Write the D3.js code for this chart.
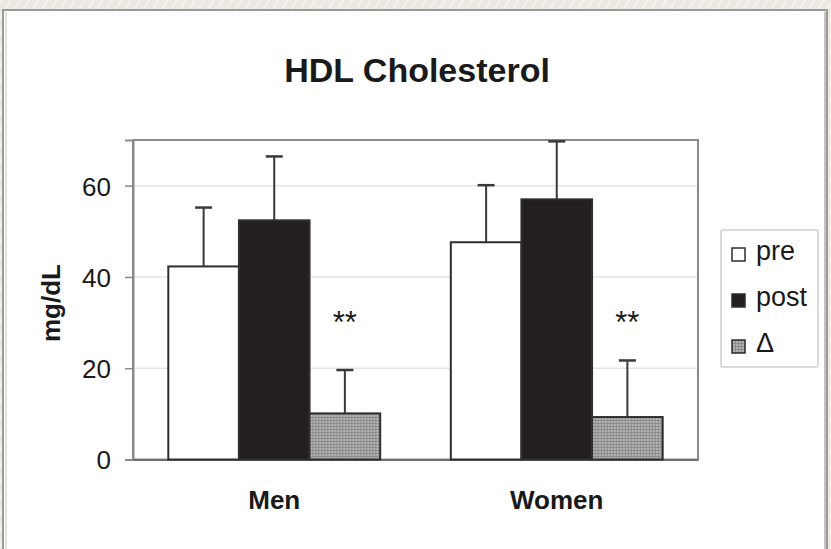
<!DOCTYPE html>
<html>
<head>
<meta charset="utf-8">
<script src="https://cdn.jsdelivr.net/npm/d3@7"></script>
<style>
  html, body { margin: 0; padding: 0; background: #ebe8df; }
  svg { display: block; }
  text { font-family: "Liberation Sans", Arial, Helvetica, sans-serif; fill: #1a1a1a; }
</style>
</head>
<body>
<svg id="chart" width="831" height="549"></svg>
<script>
// HDL cholesterol, mean ± SD (mg/dL)
const categories = ["Men", "Women"];
const seriesNames = ["pre", "post", "Δ"];
const preMean  = [42.3, 47.6];
const preSD    = [12.9, 12.5];
const postMean = [52.4, 57.0];
const postSD   = [14.0, 12.7];
const deltaMean = [10.1, 9.3];
const deltaSD   = [9.5, 12.4];
const significance = ["**", "**"];
const yTicks = [0, 20, 40, 60];

const W = 831, H = 549;
const svg = d3.select("#chart");

// pattern for the change bars
const defs = svg.append("defs");
const pat = defs.append("pattern").attr("id", "grain")
  .attr("width", 3).attr("height", 3).attr("patternUnits", "userSpaceOnUse");
pat.append("rect").attr("width", 3).attr("height", 3).attr("fill", "#b4b4b4");
pat.append("rect").attr("x", 0).attr("y", 0).attr("width", 1).attr("height", 3).attr("fill", "#8c8c8c");
pat.append("rect").attr("x", 0).attr("y", 0).attr("width", 3).attr("height", 1).attr("fill", "#8c8c8c");

// window backdrop and chart frame
const stripes = defs.append("pattern").attr("id", "stripes")
  .attr("width", 8).attr("height", 8).attr("patternUnits", "userSpaceOnUse")
  .attr("patternTransform", "rotate(30)");
stripes.append("rect").attr("width", 8).attr("height", 8).attr("fill", "#ece9e1");
stripes.append("rect").attr("width", 2).attr("height", 8).attr("fill", "#f5f3ee");
svg.append("rect").attr("width", W).attr("height", H).attr("fill", "url(#stripes)");
svg.append("rect").attr("x", 3).attr("y", 10).attr("width", 824).attr("height", 560)
  .attr("fill", "#fff").attr("stroke", "#9a9a9a").attr("stroke-width", 2);
svg.append("line").attr("x1", 6).attr("x2", 6).attr("y1", 12).attr("y2", H)
  .attr("stroke", "#d6d6d6").attr("stroke-width", 1.5);
svg.append("line").attr("x1", 825).attr("x2", 825).attr("y1", 12).attr("y2", H)
  .attr("stroke", "#c4c4c4").attr("stroke-width", 2);

const plot = { left: 133, right: 698, top: 140, bottom: 459.5 };

const y = d3.scaleLinear().domain([0, 70]).range([plot.bottom, plot.top]);
const x0 = d3.scaleBand().domain(categories).range([plot.left, plot.right])
  .paddingInner(0.25).paddingOuter(0.125);
const x1 = d3.scaleBand().domain(seriesNames).range([0, x0.bandwidth()]).padding(0);

// gridlines
svg.append("g").selectAll("line").data(yTicks.filter(t => t > 0)).join("line")
  .attr("x1", plot.left).attr("x2", plot.right)
  .attr("y1", d => y(d)).attr("y2", d => y(d))
  .attr("stroke", "#e3e3e3").attr("stroke-width", 1.5);

// plot frame
svg.append("rect").attr("x", plot.left).attr("y", plot.top)
  .attr("width", plot.right - plot.left).attr("height", plot.bottom - plot.top)
  .attr("fill", "none").attr("stroke", "#8a8a8a").attr("stroke-width", 2);

// y axis
const yAxis = svg.append("g").attr("transform", `translate(${plot.left},0)`)
  .call(d3.axisLeft(y).tickValues(yTicks).tickSize(8).tickPadding(14).tickFormat(d3.format("d")));
yAxis.select(".domain").attr("stroke", "#8a8a8a").attr("stroke-width", 2);
yAxis.selectAll(".tick line").attr("stroke", "#8a8a8a").attr("stroke-width", 1.5);
yAxis.selectAll(".tick text").attr("font-size", 26).attr("fill", "#222")
  .style("font-family", "'Liberation Sans', Arial, sans-serif").attr("dy", "0.36em");

// x axis
const xAxis = svg.append("g").attr("transform", `translate(0,${plot.bottom})`)
  .call(d3.axisBottom(x0).tickSize(0).tickPadding(31));
xAxis.select(".domain").attr("stroke", "#6e6e6e").attr("stroke-width", 2);
xAxis.selectAll(".tick text").attr("font-size", 26).attr("font-weight", "bold")
  .attr("fill", "#222").style("font-family", "'Liberation Sans', Arial, sans-serif");

// bars
const rows = categories.map((c, i) => ({
  cat: c,
  bars: [
    { key: "pre", mean: preMean[i], sd: preSD[i], fill: "#ffffff" },
    { key: "post", mean: postMean[i], sd: postSD[i], fill: "#231f20" },
    { key: "Δ", mean: deltaMean[i], sd: deltaSD[i], fill: "url(#grain)" }
  ],
  sig: significance[i]
}));

const groups = svg.append("g").selectAll("g").data(rows).join("g")
  .attr("transform", d => `translate(${x0(d.cat)},0)`);

// error bars (upper whisker only)
groups.selectAll(".err").data(d => d.bars).join("g").attr("class", "err")
  .each(function (b) {
    const g = d3.select(this);
    const cx = x1(b.key) + x1.bandwidth() / 2;
    g.append("line").attr("x1", cx).attr("x2", cx)
      .attr("y1", y(b.mean)).attr("y2", y(b.mean + b.sd))
      .attr("stroke", "#3a3a3a").attr("stroke-width", 2);
    g.append("line").attr("x1", cx - 8.5).attr("x2", cx + 8.5)
      .attr("y1", y(b.mean + b.sd)).attr("y2", y(b.mean + b.sd))
      .attr("stroke", "#3a3a3a").attr("stroke-width", 2.5);
  });

groups.selectAll(".bar").data(d => d.bars).join("rect").attr("class", "bar")
  .attr("x", b => x1(b.key))
  .attr("y", b => y(b.mean))
  .attr("width", x1.bandwidth())
  .attr("height", b => y(0) - y(b.mean))
  .attr("fill", b => b.fill)
  .attr("stroke", "#2e2e2e").attr("stroke-width", 2);

// significance markers over the change bars
groups.append("text")
  .attr("x", x1("Δ") + x1.bandwidth() / 2)
  .attr("y", 333)
  .attr("text-anchor", "middle")
  .attr("font-size", 31)
  .text(d => d.sig);

// title
svg.append("text").attr("x", 417).attr("y", 82).attr("text-anchor", "middle")
  .attr("font-size", 34).attr("font-weight", "bold").text("HDL Cholesterol");

// y label
svg.append("text").attr("transform", "translate(60,303) rotate(-90)")
  .attr("text-anchor", "middle").attr("font-size", 26).attr("font-weight", "bold")
  .text("mg/dL");

// legend
const legend = svg.append("g");
legend.append("rect").attr("x", 721).attr("y", 230).attr("width", 97).attr("height", 137)
  .attr("fill", "#fff").attr("stroke", "#cfcfcf").attr("stroke-width", 1.5).attr("rx", 2);
const legendFills = ["#ffffff", "#231f20", "url(#grain)"];
const li = legend.selectAll(".item").data(seriesNames).join("g").attr("class", "item")
  .attr("transform", (d, i) => `translate(732,${248 + i * 46})`);
li.append("rect").attr("width", 13).attr("height", 13)
  .attr("fill", (d, i) => legendFills[i]).attr("stroke", "#2e2e2e").attr("stroke-width", 1.5);
li.append("text").attr("x", 24).attr("y", 12).attr("font-size", 27).text(d => d);
</script>
</body>
</html>
